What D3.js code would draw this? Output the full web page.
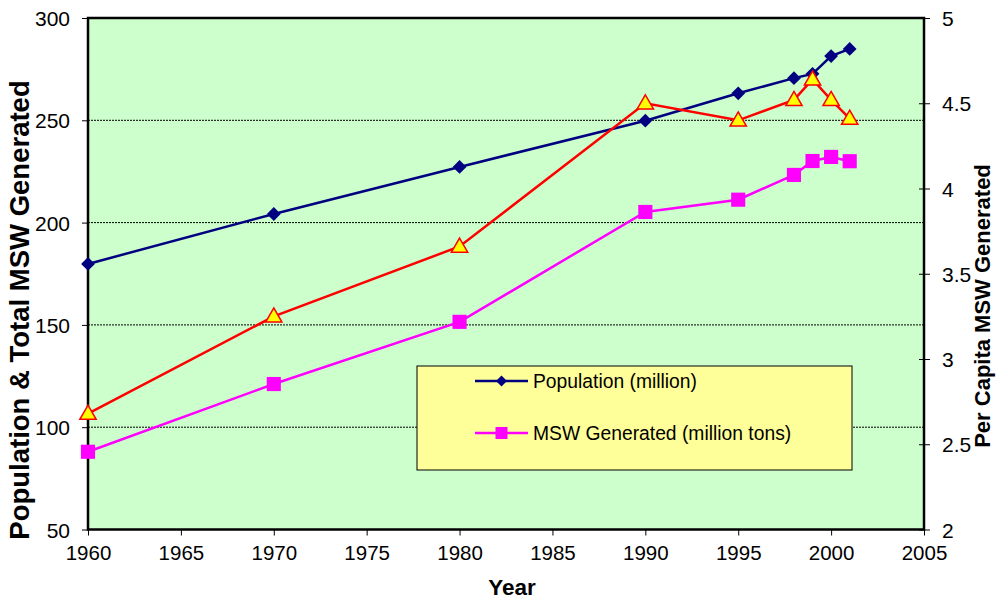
<!DOCTYPE html>
<html><head><meta charset="utf-8">
<script src="https://cdn.jsdelivr.net/npm/d3@7"></script>
<style>
body{margin:0;background:#fff;}
svg{display:block;font-family:"Liberation Sans",Arial,sans-serif;}
</style></head>
<body>
<svg id="chart" width="996" height="601"></svg>
<script>
const years = [1960, 1970, 1980, 1990, 1995, 1998, 1999, 2000, 2001];
const population = [179.8, 204.2, 227.2, 249.8, 263.2, 270.6, 272.7, 281.4, 284.9];
const mswGenerated = [88.0, 121.1, 151.5, 205.2, 211.2, 223.3, 230.1, 232.1, 230.0];
const perCapita = [2.68, 3.25, 3.66, 4.50, 4.40, 4.52, 4.64, 4.52, 4.41];
const xTicks = [1960, 1965, 1970, 1975, 1980, 1985, 1990, 1995, 2000, 2005];
const yLeftTicks = [50, 100, 150, 200, 250, 300];
const yRightTicks = [2, 2.5, 3, 3.5, 4, 4.5, 5];
const legendLabels = ["Population (million)", "MSW Generated (million tons)"];

const L = 88, R = 924, T = 18, B = 529.5;
const svg = d3.select("#chart");
const x = d3.scaleLinear().domain([1960, 2005]).range([L, R]);
const yL = d3.scaleLinear().domain([50, 300]).range([B, T]);
const yR = d3.scaleLinear().domain([2, 5]).range([B, T]);

svg.append("rect").attr("x", L).attr("y", T).attr("width", R - L).attr("height", B - T)
  .attr("fill", "#CCFFCC");

// gridlines
svg.append("g").selectAll("line").data(yLeftTicks.filter(d => d > 50 && d < 300)).join("line")
  .attr("x1", L).attr("x2", R).attr("y1", d => yL(d)).attr("y2", d => yL(d))
  .attr("stroke", "#000").attr("stroke-width", 1).attr("stroke-dasharray", "2,1");

// axes
const axL = svg.append("g").attr("transform", `translate(${L},0)`)
  .call(d3.axisLeft(yL).tickValues(yLeftTicks).tickSize(6).tickPadding(12));
const axR = svg.append("g").attr("transform", `translate(${R},0)`)
  .call(d3.axisRight(yR).tickValues(yRightTicks).tickFormat(d3.format("")).tickSize(6).tickPadding(12));
axR.selectAll(".tick line").attr("x1", -5).attr("x2", 6);
const axB = svg.append("g").attr("transform", `translate(0,${B})`)
  .call(d3.axisBottom(x).tickValues(xTicks).tickFormat(d3.format("d")).tickSize(6).tickPadding(10));
[axL, axR, axB].forEach(a => {
  a.select(".domain").remove();
  a.selectAll(".tick line").attr("stroke", "#000").attr("stroke-width", 1);
  a.selectAll(".tick text").attr("fill", "#000")
    .attr("font-family", "'Liberation Sans', Arial, sans-serif");
});
axL.selectAll(".tick text").attr("font-size", 21).attr("dy", "0.36em");
axR.selectAll(".tick text").attr("font-size", 21).attr("dy", "0.36em");
axB.selectAll(".tick text").attr("font-size", 20.5);

// border
svg.append("rect").attr("x", L).attr("y", T).attr("width", R - L).attr("height", B - T)
  .attr("fill", "none").attr("stroke", "#000").attr("stroke-width", 2.5);

// lines
const lineL = d3.line().x((d, i) => x(years[i])).y(d => yL(d));
const lineR = d3.line().x((d, i) => x(years[i])).y(d => yR(d));

svg.append("path").datum(population).attr("d", lineL).attr("fill", "none")
  .attr("stroke", "#000080").attr("stroke-width", 2.5);
svg.append("path").datum(mswGenerated).attr("d", lineL).attr("fill", "none")
  .attr("stroke", "#FF00FF").attr("stroke-width", 2.5);
svg.append("path").datum(perCapita).attr("d", lineR).attr("fill", "none")
  .attr("stroke", "#FF0000").attr("stroke-width", 2.5);

svg.append("g").selectAll("path").data(population).join("path")
  .attr("d", d3.symbol().type(d3.symbolSquare).size(95))
  .attr("transform", (d, i) => `translate(${x(years[i])},${yL(d)}) rotate(45)`)
  .attr("fill", "#000080");
svg.append("g").selectAll("path").data(mswGenerated).join("path")
  .attr("d", d3.symbol().type(d3.symbolSquare).size(200))
  .attr("transform", (d, i) => `translate(${x(years[i])},${yL(d)})`)
  .attr("fill", "#FF00FF");
svg.append("g").selectAll("path").data(perCapita).join("path")
  .attr("d", d3.symbol().type(d3.symbolTriangle).size(115))
  .attr("transform", (d, i) => `translate(${x(years[i])},${yR(d) + 1})`)
  .attr("fill", "#FFFF00").attr("stroke", "#FF0000").attr("stroke-width", 1.5);

// legend
const lg = svg.append("g");
lg.append("rect").attr("x", 417).attr("y", 366).attr("width", 435).attr("height", 104)
  .attr("fill", "#FFFF99").attr("stroke", "#000").attr("stroke-width", 1);
const legColors = ["#000080", "#FF00FF"];
legendLabels.forEach((lab, i) => {
  const yy = 381 + i * 52;
  lg.append("line").attr("x1", 475).attr("x2", 528).attr("y1", yy).attr("y2", yy)
    .attr("stroke", legColors[i]).attr("stroke-width", 2.5);
  if (i === 0) {
    lg.append("path").attr("d", d3.symbol().type(d3.symbolSquare).size(60))
      .attr("transform", `translate(501.5,${yy}) rotate(45)`).attr("fill", legColors[i]);
  } else {
    lg.append("path").attr("d", d3.symbol().type(d3.symbolSquare).size(144))
      .attr("transform", `translate(501.5,${yy})`).attr("fill", legColors[i]);
  }
  lg.append("text").attr("x", 533).attr("y", yy + 7).attr("font-size", 19.3)
    .attr("fill", "#000").text(lab);
});

// axis titles
svg.append("text").attr("x", 512).attr("y", 595).attr("text-anchor", "middle")
  .attr("font-size", 22.5).attr("font-weight", "bold").text("Year");
svg.append("text").attr("transform", "translate(29,310) rotate(-90)").attr("text-anchor", "middle")
  .attr("font-size", 27.5).attr("font-weight", "bold").text("Population & Total MSW Generated");
svg.append("text").attr("transform", "translate(990,306) rotate(-90)").attr("text-anchor", "middle")
  .attr("font-size", 22).attr("font-weight", "bold").text("Per Capita MSW Generated");
</script>
</body></html>
